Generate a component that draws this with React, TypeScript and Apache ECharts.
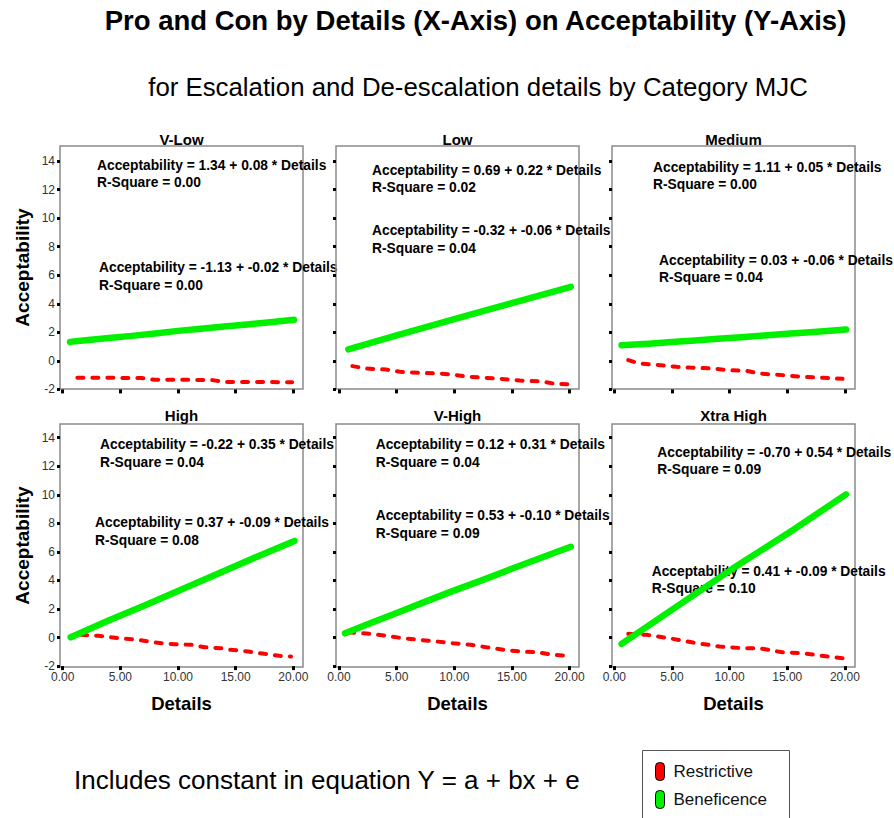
import React, { useEffect, useRef } from 'react';
import * as echarts from 'echarts';

// ---------- DATA ----------
const panelNames = ['V-Low', 'Low', 'Medium', 'High', 'V-High', 'Xtra High'];
const seriesNames = ['Restrictive', 'Beneficence'];
const xTickLabels = ['0.00', '5.00', '10.00', '15.00', '20.00'];

const vLowBeneficence = [[0.64, 1.33], [2, 1.45], [4, 1.6], [6, 1.75], [8, 1.92], [10, 2.1], [12, 2.25], [14, 2.4], [16, 2.55], [18, 2.7], [20.06, 2.88]];
const vLowRestrictive = [[1.27, -1.19], [4, -1.19], [6.8, -1.2], [8, -1.33], [11, -1.33], [13, -1.35], [14, -1.48], [17, -1.48], [19.9, -1.5]];
const lowBeneficence = [[0.81, 0.8], [5, 1.78], [10, 2.92], [15, 4.05], [20.1, 5.19]];
const lowRestrictive = [[1.16, -0.37], [2.4, -0.54], [4.1, -0.61], [5.3, -0.77], [7.0, -0.84], [8.8, -0.89], [10.2, -1.0], [11.4, -1.12], [13.7, -1.24], [14.8, -1.31], [15.7, -1.38], [17.5, -1.43], [18.6, -1.59], [19.8, -1.64]];
const mediumBeneficence = [[0.63, 1.1], [3, 1.2], [5, 1.32], [7, 1.43], [9, 1.55], [11, 1.66], [13, 1.78], [15, 1.9], [17, 2.0], [19, 2.12], [20.1, 2.2]];
const mediumRestrictive = [[1.21, 0.05], [2.2, -0.19], [4.0, -0.3], [5.4, -0.42], [6.6, -0.47], [8.6, -0.54], [9.7, -0.65], [11.5, -0.7], [12.6, -0.89], [14.6, -1.0], [16.4, -1.12], [18.1, -1.19], [19.8, -1.26]];
const highBeneficence = [[0.69, 0.02], [3.93, 1.17], [7.1, 2.25], [10.3, 3.36], [13.5, 4.48], [16.9, 5.68], [20.1, 6.77]];
const highRestrictive = [[1.6, 0.19], [3.06, 0.12], [5.2, -0.07], [6.5, -0.16], [8.0, -0.35], [9.7, -0.47], [11.2, -0.51], [12.3, -0.68], [13.8, -0.75], [14.6, -0.86], [16.1, -0.98], [17.5, -1.14], [18.8, -1.28], [19.8, -1.33]];
const vHighBeneficence = [[0.52, 0.3], [2.7, 1.0], [5.0, 1.72], [7.0, 2.36], [9.9, 3.27], [12.2, 3.95], [15.1, 4.85], [18.0, 5.73], [20.1, 6.36]];
const vHighRestrictive = [[0.8, 0.37], [2.7, 0.26], [4.1, 0.12], [5.6, -0.05], [7.0, -0.16], [8.5, -0.28], [9.9, -0.4], [11.4, -0.51], [12.8, -0.68], [14.3, -0.86], [15.7, -0.98], [17.2, -1.03], [18.6, -1.21], [19.9, -1.28]];
const xHighBeneficence = [[0.63, -0.44], [5.4, 2.17], [10.3, 4.85], [15.5, 7.54], [20.1, 10.03]];
const xHighRestrictive = [[1.21, 0.26], [2.8, 0.19], [4.8, -0.05], [6.84, -0.35], [9.15, -0.63], [11.2, -0.75], [12.6, -0.75], [13.8, -0.93], [14.6, -1.03], [16.4, -1.1], [17.8, -1.26], [19.8, -1.45]];

const beneficenceData = [vLowBeneficence, lowBeneficence, mediumBeneficence, highBeneficence, vHighBeneficence, xHighBeneficence];
const restrictiveData = [vLowRestrictive, lowRestrictive, mediumRestrictive, highRestrictive, vHighRestrictive, xHighRestrictive];

const beneficenceEq = [
  'Acceptability = 1.34 + 0.08 * Details',
  'Acceptability = 0.69 + 0.22 * Details',
  'Acceptability = 1.11 + 0.05 * Details',
  'Acceptability = -0.22 + 0.35 * Details',
  'Acceptability = 0.12 + 0.31 * Details',
  'Acceptability = -0.70 + 0.54 * Details',
];
const beneficenceR2 = ['0.00', '0.02', '0.00', '0.04', '0.04', '0.09'];
const restrictiveEq = [
  'Acceptability = -1.13 + -0.02 * Details',
  'Acceptability = -0.32 + -0.06 * Details',
  'Acceptability = 0.03 + -0.06 * Details',
  'Acceptability = 0.37 + -0.09 * Details',
  'Acceptability = 0.53 + -0.10 * Details',
  'Acceptability = 0.41 + -0.09 * Details',
];
const restrictiveR2 = ['0.00', '0.04', '0.04', '0.08', '0.09', '0.10'];

const mainTitle = 'Pro and Con by Details (X-Axis) on Acceptability (Y-Axis)';
const subTitle = 'for Escalation and De-escalation details by Category MJC';
const footNote = 'Includes constant in equation Y = a + bx + e';
const yAxisName = 'Acceptability';
const xAxisName = 'Details';

// ---------- LAYOUT ----------
const FONT = '"Liberation Sans", Arial, Helvetica, sans-serif';
const RED = '#ff0000';
const GREEN = '#00f000';

const colX0 = [62.7, 339, 614.3];
const plotW = 230.6;
const rowY14 = [161, 437.7];
const plotH = 228.4;
const boxLeft = [60, 336, 612];
const boxW = 243;
const boxTop = [146, 424];
const boxH = 243;

// equation text positions [x, yEq1, yR1, xEq2, yEq2, yR2]
const eqPos = [
  [97, 165, 182.3, 99, 267.5, 285.5],
  [372, 170.7, 187.3, 372, 230, 248.3],
  [653, 167.3, 184.3, 659, 260.7, 277.3],
  [100, 444.3, 462.3, 95, 522.7, 540],
  [375.7, 444.3, 462.3, 375.7, 515.7, 533.3],
  [657.3, 452.7, 469.3, 651.7, 571.7, 588.3],
];

function txt(text: string, x: number, y: number, size: number, weight: string, align: string, extra: any = {}) {
  return {
    type: 'text',
    x,
    y,
    z: 0,
    silent: true,
    style: {
      text,
      fill: '#000',
      font: `${weight} ${size}px ${FONT}`,
      textAlign: align,
      textVerticalAlign: 'middle',
      align,
      verticalAlign: 'middle',
    },
    ...extra,
  };
}

export default function App() {
  const ref = useRef<HTMLDivElement>(null);

  useEffect(() => {
    if (!ref.current) return;
    const chart = echarts.init(ref.current, null, { renderer: 'svg' });

    const grids: any[] = [];
    const xAxes: any[] = [];
    const yAxes: any[] = [];
    const series: any[] = [];
    const graphics: any[] = [];

    for (let i = 0; i < 6; i++) {
      const r = Math.floor(i / 3);
      const c = i % 3;
      grids.push({ left: colX0[c], top: rowY14[r], width: plotW, height: plotH });
      xAxes.push({
        gridIndex: i,
        type: 'value',
        position: 'bottom',
        min: 0,
        max: 20,
        interval: 5,
        axisLine: { show: false, onZero: false },
        axisTick: { show: true, length: 4, lineStyle: { color: '#000', width: 3 } },
        splitLine: { show: false },
        axisLabel: {
          show: r === 1,
          fontSize: 12,
          color: '#333',
          margin: 5,
          fontFamily: FONT,
          formatter: (v: number) => xTickLabels[Math.round(v / 5)] ?? v.toFixed(2),
        },
      });
      yAxes.push({
        gridIndex: i,
        type: 'value',
        position: 'left',
        min: -2,
        max: 14,
        interval: 2,
        offset: colX0[c] - boxLeft[c],
        axisLine: { show: false, onZero: false },
        axisTick: { show: true, length: 3, lineStyle: { color: '#000', width: 3 } },
        splitLine: { show: false },
        axisLabel: { show: c === 0, fontSize: 12, color: '#333', margin: 5, fontFamily: FONT },
      });
      series.push({
        name: seriesNames[0],
        type: 'line',
        xAxisIndex: i,
        yAxisIndex: i,
        data: restrictiveData[i],
        symbol: 'none',
        silent: true,
        z: 3,
        itemStyle: { color: RED },
        lineStyle: { color: RED, width: 4, type: [6, 9], cap: 'round' },
      });
      series.push({
        name: seriesNames[1],
        type: 'line',
        xAxisIndex: i,
        yAxisIndex: i,
        data: beneficenceData[i],
        symbol: 'none',
        silent: true,
        z: 4,
        itemStyle: { color: GREEN },
        lineStyle: { color: GREEN, width: 6.5, cap: 'round', join: 'round' },
      });

      // box
      graphics.push({
        type: 'rect',
        z: 0,
        silent: true,
        shape: { x: boxLeft[c], y: boxTop[r], width: boxW, height: boxH },
        style: { fill: 'none', stroke: '#8a8a8a', lineWidth: 1.5 },
      });
      // panel title
      graphics.push(txt(panelNames[i], boxLeft[c] + boxW / 2, r === 0 ? 139.3 : 415, 15, 'bold', 'center'));
      // equations
      const p = eqPos[i];
      graphics.push(txt(beneficenceEq[i], p[0], p[1], 13.8, 'bold', 'left'));
      graphics.push(txt('R-Square = ' + beneficenceR2[i], p[0], p[2], 13.8, 'bold', 'left'));
      graphics.push(txt(restrictiveEq[i], p[3], p[4], 13.8, 'bold', 'left'));
      graphics.push(txt('R-Square = ' + restrictiveR2[i], p[3], p[5], 13.8, 'bold', 'left'));
      // x axis name on bottom row
      if (r === 1) {
        graphics.push(txt(xAxisName, boxLeft[c] + boxW / 2, 703, 18.5, 'bold', 'center'));
      }
      // y axis name on left column
      if (c === 0) {
        graphics.push(txt(yAxisName, 22, boxTop[r] + boxH / 2, 19, 'bold', 'center', { rotation: Math.PI / 2 }));
      }
    }

    graphics.push(txt(mainTitle, 475.5, 20, 27.5, 'bold', 'center'));
    graphics.push(txt(subTitle, 478, 87, 25.8, 'normal', 'center'));
    graphics.push(txt(footNote, 74, 780, 26, 'normal', 'left'));
    // legend frame
    graphics.push({
      type: 'rect',
      z: 0,
      silent: true,
      shape: { x: 642.5, y: 750.5, width: 147, height: 100 },
      style: { fill: '#fff', stroke: '#555', lineWidth: 1 },
    });

    const pill = 'path://M4,0 L5,0 Q9,0 9,4 L9,14 Q9,18 5,18 L4,18 Q0,18 0,14 L0,4 Q0,0 4,0 Z';

    chart.setOption({
      animation: false,
      backgroundColor: '#ffffff',
      grid: grids,
      xAxis: xAxes,
      yAxis: yAxes,
      series,
      graphic: { elements: graphics },
      legend: {
        orient: 'vertical',
        left: 655,
        top: 762,
        padding: 0,
        itemWidth: 9,
        itemHeight: 18,
        itemGap: 9,
        z: 10,
        icon: pill,
        selectedMode: false,
        textStyle: { fontSize: 17, color: '#111', fontFamily: FONT, padding: [0, 0, 0, 4] },
        data: [
          { name: seriesNames[0], icon: pill, itemStyle: { color: RED, borderColor: '#000', borderWidth: 1 } },
          { name: seriesNames[1], icon: pill, itemStyle: { color: GREEN, borderColor: '#000', borderWidth: 1 } },
        ],
      },
    });

    return () => {
      chart.dispose();
    };
  }, []);

  return <div ref={ref} style={{ position: 'fixed', left: 0, top: 0, width: 894, height: 818 }} />;
}
